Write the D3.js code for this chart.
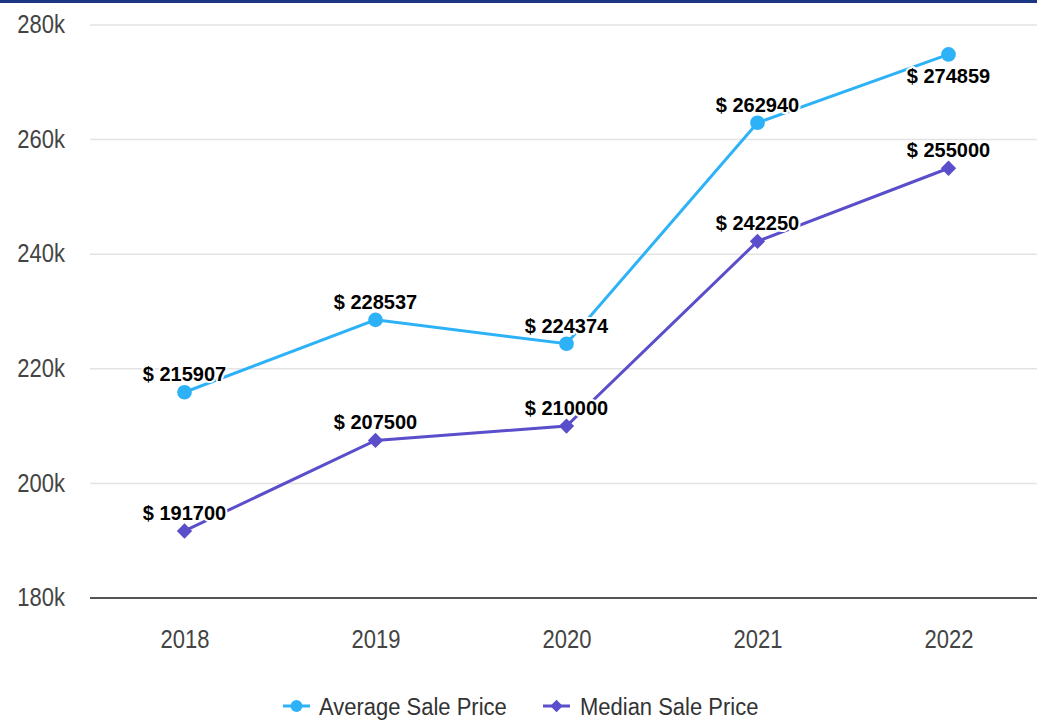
<!DOCTYPE html>
<html>
<head>
<meta charset="utf-8">
<script src="https://cdn.jsdelivr.net/npm/d3@7"></script>
<style>
  body { margin: 0; background: #fff; }
  svg { display: block; font-family: "Liberation Sans", Arial, sans-serif; }
</style>
</head>
<body>
<script>
var years = ["2018", "2019", "2020", "2021", "2022"];
var averageSale = [215907, 228537, 224374, 262940, 274859];
var medianSale = [191700, 207500, 210000, 242250, 255000];
var yTicks = [180000, 200000, 220000, 240000, 260000, 280000];
var seriesNames = ["Average Sale Price", "Median Sale Price"];

function main(){
	var w = 1037, h = 720;
	var svg = d3.select("body").append("svg")
		.attr("width", w).attr("height", h);

	// top stripe
	svg.append("rect").attr("x", 0).attr("y", 0).attr("width", w).attr("height", 3)
		.attr("fill", "#1c3683");

	var xScale = d3.scalePoint().domain(years).range([89, 1044]).padding(0.5);
	var yScale = d3.scaleLinear().domain([180000, 280000]).range([598, 25]);

	// grid
	svg.selectAll(".grid").data(yTicks.slice(1)).enter().append("line")
		.attr("x1", 90).attr("x2", w)
		.attr("y1", function(d){ return yScale(d); })
		.attr("y2", function(d){ return yScale(d); })
		.attr("stroke", "#e3e3e3").attr("stroke-width", 1.5);

	var yAxis = d3.axisLeft(yScale).tickValues(yTicks)
		.tickFormat(function(d){ return (d / 1000) + "k"; }).tickSize(0).tickPadding(0);
	var gy = svg.append("g").attr("transform", "translate(65,0)").call(yAxis);
	gy.select(".domain").remove();
	gy.selectAll("text").attr("font-size", 22).attr("fill", "#444")
		.attr("font-family", "Liberation Sans, Arial, sans-serif")
		.attr("dy", "0.3em")
		.attr("transform", "scale(1,1.15)");

	// baseline
	svg.append("line").attr("x1", 90).attr("x2", w)
		.attr("y1", yScale(180000)).attr("y2", yScale(180000))
		.attr("stroke", "#555").attr("stroke-width", 2);

	var xAxis = d3.axisBottom(xScale).tickSize(0).tickPadding(0);
	var gx = svg.append("g").attr("transform", "translate(0,630)").call(xAxis);
	gx.select(".domain").remove();
	gx.selectAll("text").attr("font-size", 22).attr("fill", "#444")
		.attr("font-family", "Liberation Sans, Arial, sans-serif")
		.attr("transform", "scale(1,1.15)");

	var colors = ["#2eb2f7", "#5a4ecb"];
	var data = [averageSale, medianSale];

	var line = d3.line()
		.x(function(d, i){ return xScale(years[i]); })
		.y(function(d){ return yScale(d); });

	data.forEach(function(vals, s){
		svg.append("path").datum(vals).attr("d", line)
			.attr("fill", "none").attr("stroke", colors[s]).attr("stroke-width", 3);
		var sym = d3.symbol().type(s === 0 ? d3.symbolCircle : d3.symbolDiamond2)
			.size(s === 0 ? 170 : 150);
		svg.selectAll(".pt" + s).data(vals).enter().append("path")
			.attr("d", sym)
			.attr("transform", function(d, i){ return "translate(" + xScale(years[i]) + "," + yScale(d) + ")"; })
			.attr("fill", colors[s]);
	});

	// data labels
	data.forEach(function(vals, s){
		svg.selectAll(".lb" + s).data(vals).enter().append("text")
			.attr("x", function(d, i){ return xScale(years[i]); })
			.attr("y", function(d, i){
				var below = (s === 0 && i === 4);
				return yScale(d) + (below ? 29 : -11);
			})
			.attr("text-anchor", "middle")
			.attr("font-size", 20).attr("font-weight", "bold").attr("fill", "#000")
			.attr("stroke", "#fff").attr("stroke-width", 4).attr("stroke-linejoin", "round")
			.attr("paint-order", "stroke")
			.text(function(d){ return "$ " + d; });
	});

	// legend
	var legendX = [283, 543];
	seriesNames.forEach(function(name, s){
		var g = svg.append("g").attr("transform", "translate(" + legendX[s] + ",706)");
		g.append("line").attr("x1", 0).attr("x2", 27).attr("y1", 0).attr("y2", 0)
			.attr("stroke", colors[s]).attr("stroke-width", 3);
		g.append("path")
			.attr("d", d3.symbol().type(s === 0 ? d3.symbolCircle : d3.symbolDiamond2).size(s === 0 ? 110 : 100))
			.attr("transform", "translate(13.5,0)").attr("fill", colors[s]);
		g.append("text").attr("x", s === 0 ? 36 : 37).attr("y", 8)
			.attr("transform", "scale(1,1.1)")
			.attr("font-size", 22).attr("fill", "#333").text(name);
	});
}

main();
</script>
</body>
</html>
